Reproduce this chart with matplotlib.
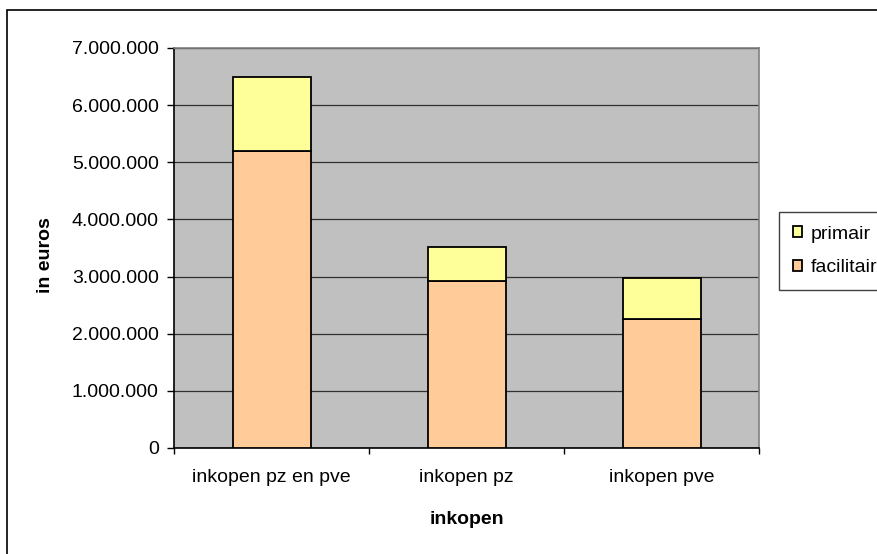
import matplotlib.pyplot as plt
from matplotlib.patches import Rectangle, Patch
from matplotlib.ticker import FuncFormatter

categories = ['inkopen pz en pve', 'inkopen pz', 'inkopen pve']
facilitair = [5190000, 2920000, 2260000]
primair = [1310000, 600000, 720000]
y_ticks = [0, 1000000, 2000000, 3000000, 4000000, 5000000, 6000000, 7000000]

plt.rcParams['font.family'] = ['Liberation Sans', 'DejaVu Sans']

W, H = 877, 554
fig = plt.figure(figsize=(W / 100, H / 100), dpi=100)
ax = fig.add_axes([174 / W, 1 - 448 / H, (759 - 174) / W, (448 - 48) / H])
ax.set_facecolor('#C0C0C0')

x = range(len(categories))
ax.bar(x, facilitair, width=0.4, color='#FFCC99', edgecolor='black', linewidth=1.3, zorder=3)
ax.bar(x, primair, width=0.4, bottom=facilitair, color='#FFFF99', edgecolor='black', linewidth=1.3, zorder=3)

ax.set_xlim(-0.5, 2.5)
ax.set_ylim(0, 7000000)
ax.set_yticks(y_ticks)
ax.yaxis.set_major_formatter(FuncFormatter(lambda v, p: '{:,}'.format(int(v)).replace(',', '.')))
ax.yaxis.grid(True, color='#303030', linewidth=0.9, zorder=1)
ax.set_axisbelow(True)

# category boundaries get the ticks, centres get the labels
ax.set_xticks([-0.5, 0.5, 1.5, 2.5])
ax.set_xticklabels([])
ax.set_xticks(list(x), minor=True)
ax.set_xticklabels(categories, minor=True)
ax.tick_params(axis='x', which='major', direction='out', length=4, width=1, color='black')
ax.tick_params(axis='x', which='minor', length=0, pad=15, labelsize=14)
ax.tick_params(axis='y', direction='out', length=5, width=1, pad=6, labelsize=14)

for s in ['left', 'bottom']:
    ax.spines[s].set_color('black')
    ax.spines[s].set_linewidth(1.2)
for s in ['top', 'right']:
    ax.spines[s].set_color('#808080')
    ax.spines[s].set_linewidth(1.2)

ax.set_ylabel('in euros', fontsize=14, fontweight='bold', va='center')
ax.yaxis.set_label_coords((45 - 174) / 585, (448 - 255) / 400)
ax.set_xlabel('inkopen', fontsize=14, fontweight='bold', va='center')
ax.xaxis.set_label_coords(0.5, (448 - 519) / 400)

handles = [Patch(facecolor='#FFFF99', edgecolor='black', linewidth=1.3, label='primair'),
           Patch(facecolor='#FFCC99', edgecolor='black', linewidth=1.3, label='facilitair')]
fig.legend(handles=handles, loc='upper left', bbox_to_anchor=(779 / W, 1 - 212 / H),
           fontsize=14, frameon=True, fancybox=False, edgecolor='#404040', framealpha=1,
           handlelength=0.5, handleheight=0.5, handletextpad=0.45, borderpad=0.7,
           labelspacing=0.85, borderaxespad=0)

# chart area border (right and bottom edges fall outside the image)
fig.patches.append(Rectangle((7 / W, -0.1), 1.2, 1.1 - 10 / H, transform=fig.transFigure,
                             fill=False, edgecolor='black', linewidth=1.2))

fig.savefig('out.png', dpi=100)
